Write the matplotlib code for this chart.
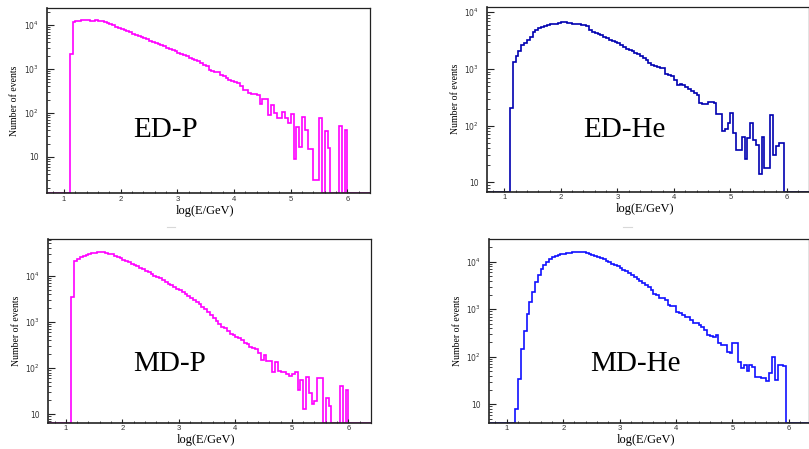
import matplotlib.pyplot as plt
import matplotlib.ticker as mticker
import numpy as np
from matplotlib.lines import Line2D

# histogram bins: width 0.05 in log(E/GeV), first bin starts at 1.10, last ends at 6.00
BIN_START = 1.10
BIN_WIDTH = 0.05

# counts per bin, 0 = empty bin
ed_p = [2140, 11750, 12020, 12590, 12880, 12880, 12880, 12590, 12590, 12880,
        12590, 12300, 11750, 11220, 10470, 9770, 9120, 8710, 8130, 7590,
        7240, 6760, 6310, 6030, 5620, 5250, 5010, 4680, 4370, 4170,
        3890, 3720, 3470, 3240, 3020, 2880, 2690, 2510, 2340, 2190,
        2040, 1950, 1820, 1700, 1580, 1480, 1380, 1260, 1175, 955,
        891, 832, 832, 724, 676, 631, 562, 525, 501, 468,
        407, 339, 324, 282, 263, 263, 251, 158, 204, 204,
        89, 151, 98, 78, 78, 107, 78, 60, 93, 9,
        49, 17, 81, 41, 15, 15, 3, 3, 76, 0,
        38, 16, 0, 0, 0, 50, 0, 41]

ed_he = [204, 1320, 1660, 2040, 2630, 2880, 3310, 3720, 4470, 4790,
         5250, 5500, 5750, 6030, 6170, 6310, 6310, 6460, 6610, 6610,
         6460, 6460, 6310, 6170, 6170, 6030, 5890, 5620, 4790, 4570,
         4370, 4170, 3980, 3720, 3550, 3310, 3160, 2950, 2820, 2630,
         2450, 2290, 2190, 2040, 1950, 1820, 1660, 1550, 1445, 1260,
         1175, 1120, 1070, 1020, 1050, 813, 776, 759, 646, 525,
         537, 513, 490, 447, 407, 372, 347, 251, 245, 240,
         263, 263, 251, 158, 158, 81, 87, 110, 170, 74,
         37, 37, 62, 26, 60, 112, 56, 46, 14, 62,
         18, 18, 155, 30, 43, 49, 49, 0]

md_p = [3390, 20900, 23440, 25120, 26920, 28180, 29510, 30900, 31620, 32360,
        32360, 32360, 31620, 30200, 28840, 26920, 25700, 23990, 22390, 20890,
        19500, 18200, 16980, 15850, 14790, 13800, 12880, 11750, 10960, 10000,
        9330, 8710, 7940, 7410, 6760, 6310, 5750, 5250, 4790, 4370,
        3980, 3630, 3240, 2950, 2690, 2450, 2140, 1860, 1620, 1380,
        1200, 1050, 912, 776, 724, 631, 550, 513, 479, 447,
        398, 347, 324, 288, 275, 263, 209, 151, 195, 141,
        141, 83, 138, 85, 81, 81, 74, 66, 74, 83,
        34, 56, 13, 63, 29, 17, 19, 60, 60, 0,
        23, 15, 0, 0, 0, 40, 0, 34]

md_he = [0, 8, 34, 145, 347, 776, 1410, 2340, 3720, 5250,
         6920, 8510, 10000, 11480, 12300, 12880, 13800, 14450, 14790, 15490,
         15490, 15850, 16220, 16220, 16220, 15850, 15490, 14790, 14130, 13490,
         12590, 12020, 11220, 10470, 9770, 9120, 8510, 7940, 7410, 6760,
         6310, 5750, 5250, 4790, 4370, 3980, 3630, 3240, 2880, 2510,
         2140, 2000, 1700, 1700, 1550, 1230, 1150, 1150, 891, 851,
         759, 692, 692, 589, 525, 525, 468, 427, 363, 288,
         275, 263, 288, 191, 178, 178, 129, 120, 191, 191,
         79, 59, 66, 50, 66, 62, 38, 38, 35, 35,
         31, 45, 100, 32, 66, 66, 65, 0]

labels = ['ED-P', 'ED-He', 'MD-P', 'MD-He']
colors = ['#ff00ff', '#0000b0', '#ff00ff', '#1010ff']
ylims = [(10**0.18, 10**4.386), (10**0.834, 10**4.099),
         (10**0.818, 10**4.794), (10**0.613, 10**4.478)]
xlims = [(0.7, 6.4), (0.7, 6.38), (0.69, 6.4), (0.69, 6.36)]
boxes = [[0.0581, 0.5702, 0.3993, 0.4120],
         [0.6024, 0.5731, 0.3970, 0.4120],
         [0.0597, 0.0586, 0.3989, 0.4091],
         [0.6048, 0.0586, 0.3955, 0.4091]]
label_pos = [(0.267, 0.301), (0.299, 0.294), (0.263, 0.283), (0.315, 0.283)]

SERIF = 'Liberation Serif'
SANS = 'Liberation Sans'


def log_label(y, pos):
    p = int(round(np.log10(y)))
    if p == 1:
        return '10'
    return r'$10^{%d}$' % p


def draw_panel(ax, counts, color, ylim, xlim, label, lpos):
    counts = np.asarray(counts, dtype=float)
    edges = BIN_START + BIN_WIDTH * np.arange(len(counts) + 1)
    # empty bins out to the ends of the axis, drawn on the frame like ROOT does
    n_pad = 8
    left = edges[0] - BIN_WIDTH * np.arange(n_pad, 0, -1)
    right = edges[-1] + BIN_WIDTH * np.arange(1, n_pad + 1)
    all_edges = np.concatenate([left, edges, right])
    vals = np.concatenate([np.zeros(n_pad), counts, np.zeros(n_pad)])
    vals = np.maximum(vals, ylim[0])
    ax.stairs(vals, all_edges, baseline=None, color=color, lw=1.2)

    ax.set_yscale('log')
    ax.set_ylim(*ylim)
    ax.set_xlim(*xlim)

    ax.yaxis.set_major_locator(mticker.FixedLocator([10, 100, 1000, 10000]))
    ax.yaxis.set_major_formatter(mticker.FuncFormatter(log_label))
    ax.yaxis.set_minor_locator(mticker.LogLocator(base=10, subs=np.arange(2, 10)))
    ax.yaxis.set_minor_formatter(mticker.NullFormatter())
    ax.xaxis.set_major_locator(mticker.MultipleLocator(1))
    ax.xaxis.set_minor_locator(mticker.MultipleLocator(0.2))

    ax.tick_params(which='both', direction='in', top=False, right=False,
                   colors='#222222', labelcolor='#333333', labelsize=5.5)
    ax.tick_params(axis='y', which='major', length=5, width=0.8, pad=6)
    ax.tick_params(axis='y', which='minor', length=2.5, width=0.6)
    ax.tick_params(axis='x', which='major', length=3, width=0.8, pad=2)
    ax.tick_params(axis='x', which='minor', length=1.5, width=0.6)
    for lab in ax.get_xticklabels():
        lab.set_family(SANS)

    for side, sp in ax.spines.items():
        sp.set_color('#222222')
        sp.set_linewidth(1.2 if side in ('left', 'bottom') else 0.9)

    ax.set_xlabel('log(E/GeV)', family=SERIF, fontsize=9, va='center')
    ax.xaxis.set_label_coords(0.49, -0.095)
    ax.set_ylabel('Number of events', family=SERIF, fontsize=7, va='center')
    ax.yaxis.set_label_coords(-0.10, 0.5)

    ax.text(lpos[0], lpos[1], label, transform=ax.transAxes, family=SERIF,
            fontsize=21, ha='left', va='baseline', color='black')


fig = plt.figure(figsize=(8.09, 4.49), dpi=100)
data = [ed_p, ed_he, md_p, md_he]
for i in range(4):
    ax = fig.add_axes(boxes[i])
    draw_panel(ax, data[i], colors[i], ylims[i], xlims[i], labels[i], label_pos[i])

# faint leftover marks above the lower panels
fig.add_artist(Line2D([167 / 809, 175 / 809], [1 - 226.5 / 449] * 2, color='#d8d8d8', lw=0.8))
fig.add_artist(Line2D([623 / 809, 632 / 809], [1 - 227 / 449] * 2, color='#d8d8d8', lw=0.8))

fig.savefig('out.png', dpi=100)
